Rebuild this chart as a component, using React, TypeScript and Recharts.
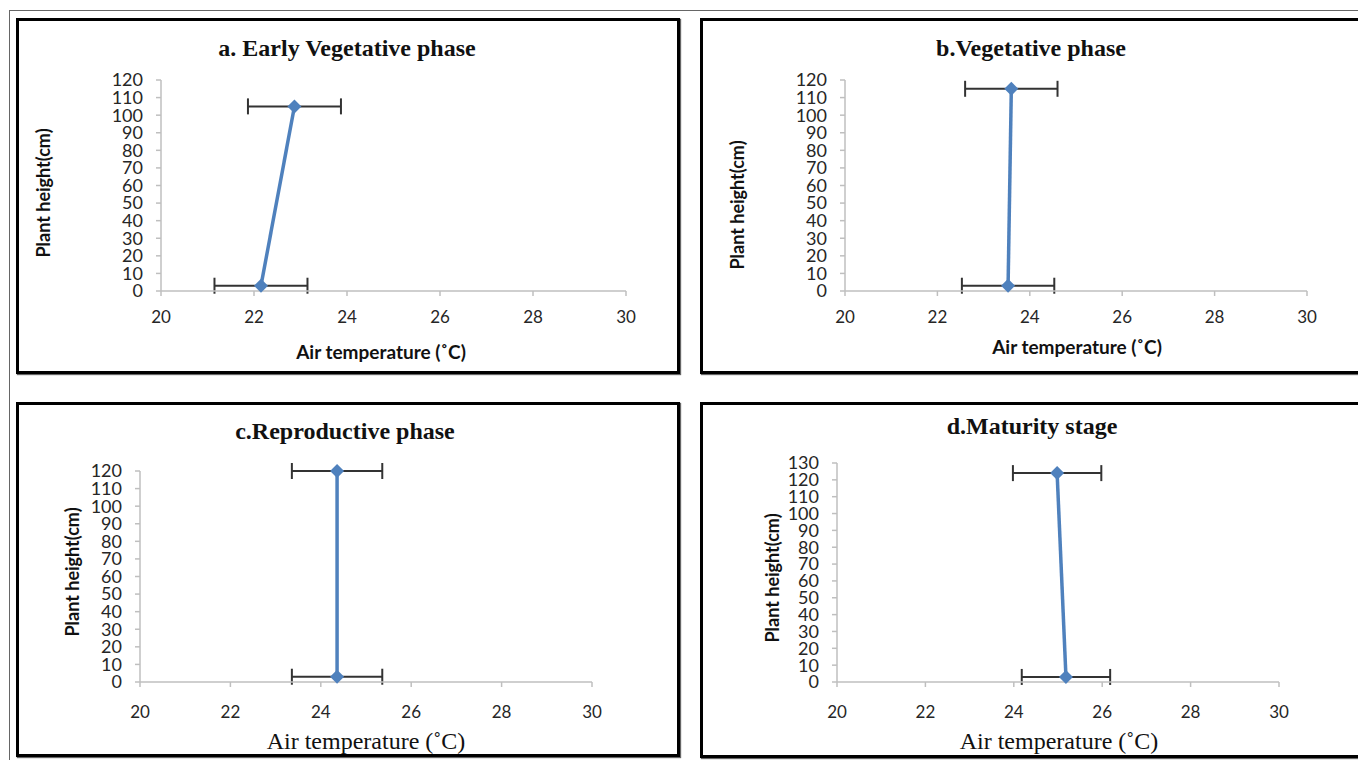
import React from 'react';
import {
  ScatterChart,
  Scatter,
  XAxis,
  YAxis,
  ErrorBar,
} from 'recharts';

// values
const tempA = [22.15, 22.87];
const heightA = [3, 105];
const tempB = [23.53, 23.6];
const heightB = [3, 115];
const tempC = [24.36, 24.36];
const heightC = [3, 120];
const tempD = [25.18, 24.98];
const heightD = [3, 124];
const errX = [1, 1];

const xTicks = [20, 22, 24, 26, 28, 30];
const yTicks120 = [0, 10, 20, 30, 40, 50, 60, 70, 80, 90, 100, 110, 120];
const yTicks130 = [0, 10, 20, 30, 40, 50, 60, 70, 80, 90, 100, 110, 120, 130];

const BLUE = '#4F81BD';
const AXIS = '#bfbfbf';
const SANS = 'Lato, "Open Sans", sans-serif';
const SERIF = '"Liberation Serif", "Times New Roman", serif';

const build = (t: number[], h: number[]) =>
  t.map((v, i) => ({ t: v, h: h[i], err: errX[i] }));

const Diamond = (props: any) => {
  const { cx, cy } = props;
  const r = 7;
  return (
    <polygon
      points={`${cx},${cy - r} ${cx + r},${cy} ${cx},${cy + r} ${cx - r},${cy}`}
      fill={BLUE}
    />
  );
};

type Box = { x: number; y: number; w: number; h: number };
type Plot = { left: number; top: number; right: number; bottom: number };

const Y_W = 40;
const X_H = 40;

const Panel = ({
  box,
  plot,
  data,
  yTicks,
  title,
  titlePos,
  yLabelPos,
  xLabelPos,
  serifX,
  xTickMargin,
}: {
  box: Box;
  plot: Plot;
  data: any[];
  yTicks: number[];
  title: string;
  titlePos: [number, number];
  yLabelPos: [number, number];
  xLabelPos: [number, number];
  serifX: boolean;
  xTickMargin: number;
}) => {
  const margin = {
    top: plot.top - box.y,
    left: plot.left - box.x - Y_W,
    right: box.x + box.w - plot.right,
    bottom: box.y + box.h - plot.bottom - X_H,
  };
  const yMax = yTicks[yTicks.length - 1];
  return (
    <>
      <div
        style={{
          position: 'absolute',
          left: box.x,
          top: box.y,
          width: box.w,
          height: box.h,
          boxSizing: 'border-box',
          border: '3px solid #000',
          boxShadow: '1px 1px 1px #666',
        }}
      />
      <div style={{ position: 'absolute', left: box.x, top: box.y }}>
        <ScatterChart width={box.w} height={box.h} margin={margin}>
          <XAxis
            type="number"
            dataKey="t"
            domain={[20, 30]}
            ticks={xTicks}
            height={X_H}
            stroke={AXIS}
            strokeWidth={1.5}
            tickSize={5}
            tickMargin={xTickMargin}
            tick={{ fill: '#262626', fontSize: 17, fontFamily: SANS }}
          />
          <YAxis
            type="number"
            dataKey="h"
            domain={[0, yMax]}
            ticks={yTicks}
            interval={0}
            width={Y_W}
            stroke={AXIS}
            strokeWidth={1.5}
            tickSize={5}
            tickMargin={13}
            tick={{ fill: '#262626', fontSize: 18, fontFamily: SANS }}
          />
          <Scatter
            data={data}
            shape={<Diamond />}
            line={{ stroke: BLUE, strokeWidth: 3.5 }}
            isAnimationActive={false}
          >
            <ErrorBar
              dataKey="err"
              direction="x"
              width={8}
              stroke="#333"
              strokeWidth={2}
              isAnimationActive={false}
            />
          </Scatter>
        </ScatterChart>
      </div>
      <div
        style={{
          position: 'absolute',
          left: titlePos[0],
          top: titlePos[1],
          transform: 'translate(-50%, -50%)',
          whiteSpace: 'nowrap',
          fontFamily: SERIF,
          fontWeight: 'bold',
          fontSize: 24,
          color: '#111',
        }}
      >
        {title}
      </div>
      <div
        style={{
          position: 'absolute',
          left: yLabelPos[0],
          top: yLabelPos[1],
          transform: 'translate(-50%, -50%) rotate(-90deg)',
          whiteSpace: 'nowrap',
          fontFamily: SANS,
          fontWeight: 'bold',
          fontSize: 18,
          color: '#111',
        }}
      >
        Plant height(cm)
      </div>
      <div
        style={{
          position: 'absolute',
          left: xLabelPos[0],
          top: xLabelPos[1],
          transform: 'translate(-50%, -50%)',
          whiteSpace: 'nowrap',
          fontFamily: serifX ? SERIF : SANS,
          fontWeight: serifX ? 'normal' : 'bold',
          fontSize: serifX ? 24 : 19,
          color: '#111',
        }}
      >
        Air temperature (˚C)
      </div>
    </>
  );
};

export default function App() {
  return (
    <div
      style={{
        position: 'absolute',
        left: 0,
        top: 0,
        width: 1358,
        height: 760,
        overflow: 'hidden',
        background: '#fff',
      }}
    >
      <div style={{ position: 'absolute', left: 9, top: 10, width: 1400, height: 1, background: '#666' }} />
      <div style={{ position: 'absolute', left: 9, top: 10, width: 1, height: 760, background: '#666' }} />
      <Panel
        box={{ x: 16, y: 18, w: 664, h: 356 }}
        plot={{ left: 161, top: 80, right: 626, bottom: 291 }}
        data={build(tempA, heightA)}
        yTicks={yTicks120}
        title="a. Early Vegetative phase"
        titlePos={[347, 48]}
        yLabelPos={[43, 193]}
        xLabelPos={[381, 351]}
        serifX={false}
        xTickMargin={15}
      />
      <Panel
        box={{ x: 700, y: 18, w: 680, h: 356 }}
        plot={{ left: 845, top: 80, right: 1307, bottom: 291 }}
        data={build(tempB, heightB)}
        yTicks={yTicks120}
        title="b.Vegetative phase"
        titlePos={[1031, 48]}
        yLabelPos={[737, 205]}
        xLabelPos={[1077, 346]}
        serifX={false}
        xTickMargin={15}
      />
      <Panel
        box={{ x: 16, y: 402, w: 664, h: 355 }}
        plot={{ left: 140, top: 471, right: 592, bottom: 682 }}
        data={build(tempC, heightC)}
        yTicks={yTicks120}
        title="c.Reproductive phase"
        titlePos={[345, 431]}
        yLabelPos={[72, 572]}
        xLabelPos={[366, 741]}
        serifX
        xTickMargin={19}
      />
      <Panel
        box={{ x: 700, y: 402, w: 680, h: 356 }}
        plot={{ left: 837, top: 463, right: 1279, bottom: 682 }}
        data={build(tempD, heightD)}
        yTicks={yTicks130}
        title="d.Maturity stage"
        titlePos={[1032, 426]}
        yLabelPos={[772, 578]}
        xLabelPos={[1059, 741]}
        serifX
        xTickMargin={19}
      />
    </div>
  );
}
